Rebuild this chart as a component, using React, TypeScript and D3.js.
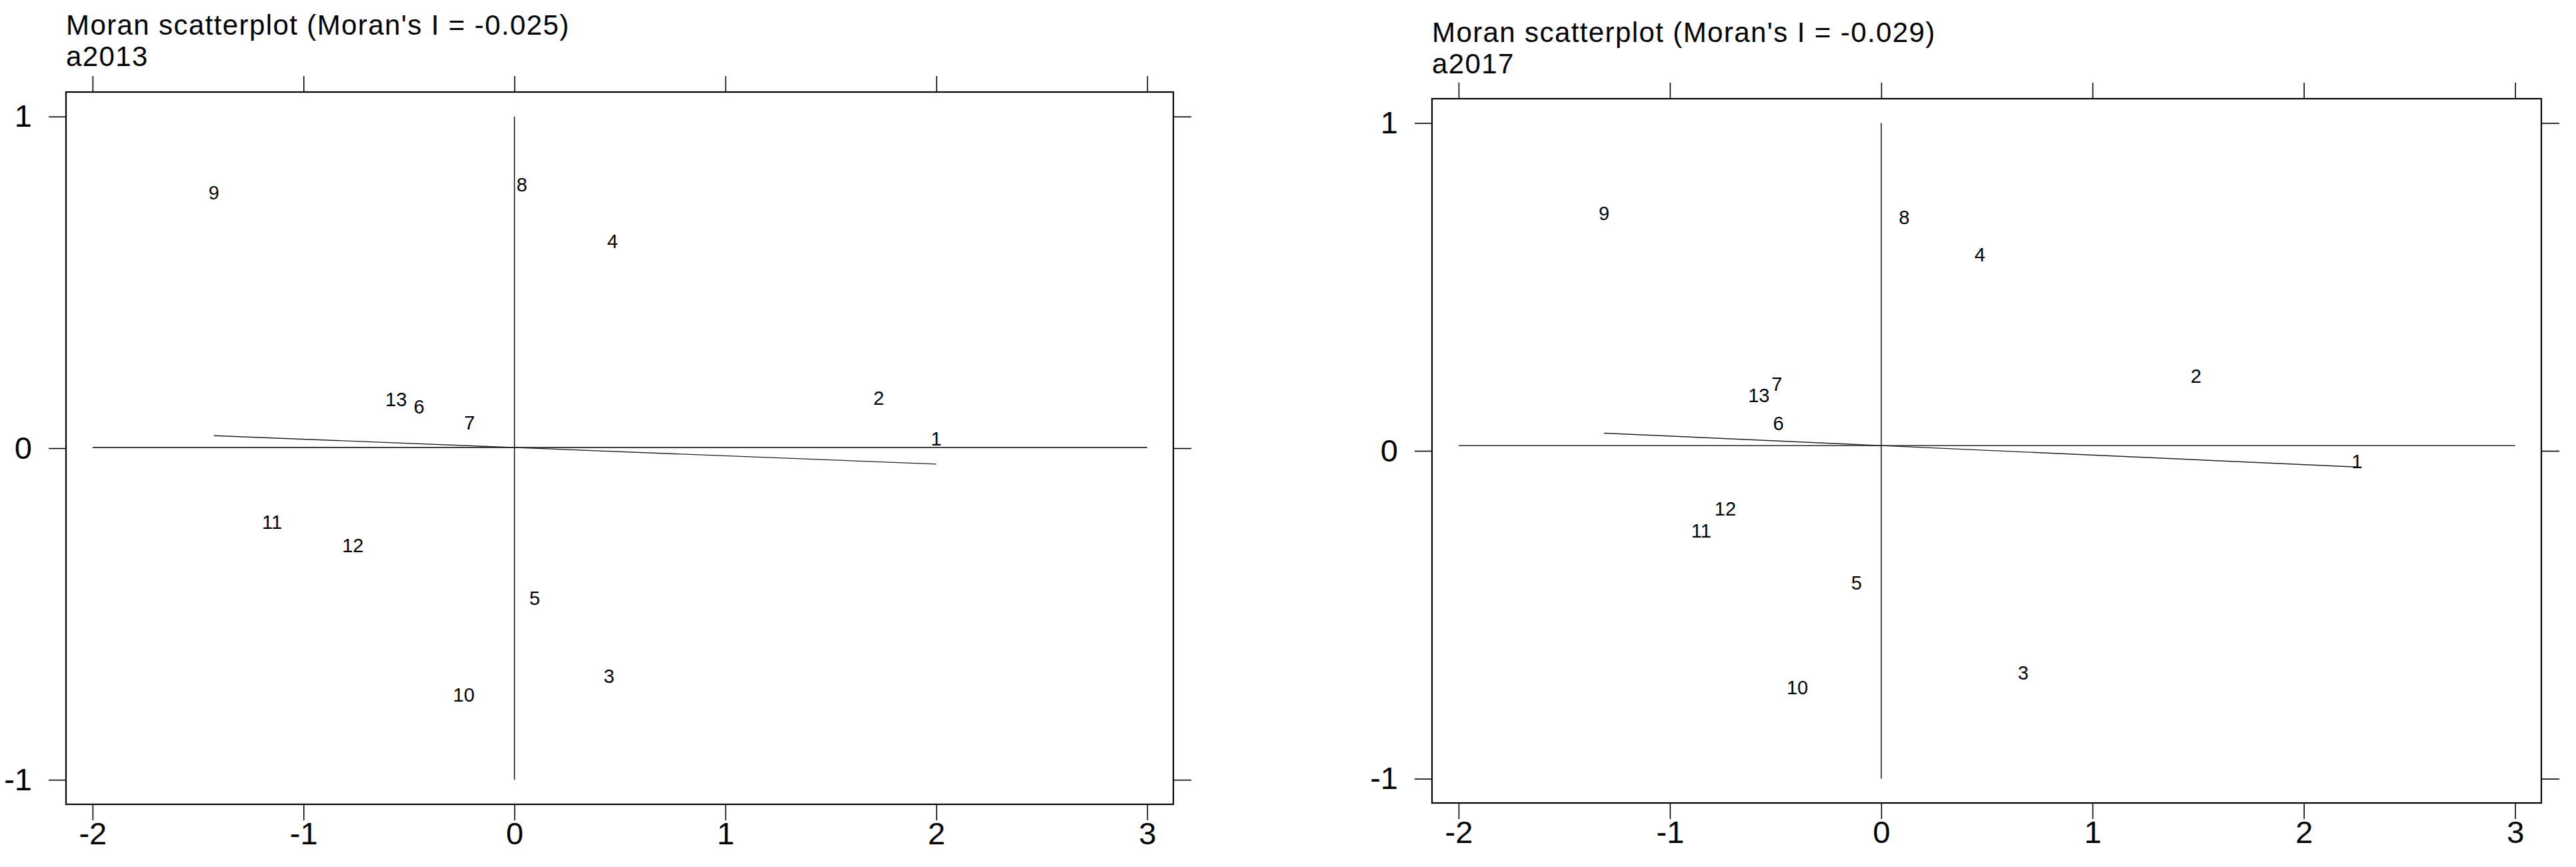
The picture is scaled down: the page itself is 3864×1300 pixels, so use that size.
import React, { useEffect, useRef } from 'react';
import * as d3 from 'd3';

// region ids, 1..13
const regionIds = [1, 2, 3, 4, 5, 6, 7, 8, 9, 10, 11, 12, 13];

// standardized values (z) and their spatial lag (Wz), 2013
const z2013 = [2.0, 1.727, 0.449, 0.465, 0.096, -0.452, -0.213, 0.035, -1.425, -0.24, -1.149, -0.766, -0.561];
const lag2013 = [0.029, 0.151, -0.686, 0.624, -0.451, 0.126, 0.077, 0.795, 0.771, -0.743, -0.222, -0.292, 0.147];

// same for 2017
const z2017 = [2.252, 1.49, 0.672, 0.467, -0.117, -0.487, -0.494, 0.109, -1.312, -0.397, -0.852, -0.738, -0.579];
const lag2017 = [-0.031, 0.228, -0.676, 0.599, -0.401, 0.085, 0.205, 0.713, 0.725, -0.721, -0.244, -0.176, 0.169];

const panelNames = ['a2013', 'a2017'];
const moranI = [-0.025, -0.029];
const lagMeans = [0.002, 0.016];

const xTicks = [-2, -1, 0, 1, 2, 3];
const yTicks = [-1, 0, 1];

const FONT = "'Liberation Sans', Arial, Helvetica, sans-serif";

const App = () => {
  const d3Container = useRef(null);

  useEffect(() => {
    if (!d3Container.current) return;
    const svg = d3.select(d3Container.current);
    svg.selectAll('*').remove();

    const panels = [
      { left: 99, right: 1760, top: 138, bottom: 1206, titleY: 52, z: z2013, lag: lag2013 },
      { left: 2148, right: 3812, top: 148, bottom: 1204, titleY: 63, z: z2017, lag: lag2017 },
    ];

    panels.forEach((p, i) => {
      const x = d3.scaleLinear().domain([-2.126, 3.124]).range([p.left, p.right]);
      const y = d3.scaleLinear().domain([-1.074, 1.074]).range([p.bottom, p.top]);
      const g = svg.append('g');

      // titles, two lines
      [`Moran scatterplot (Moran's I = ${moranI[i].toFixed(3)})`, panelNames[i]].forEach((t, k) => {
        g.append('text')
          .attr('x', p.left)
          .attr('y', p.titleY + k * 47)
          .attr('font-family', FONT)
          .attr('font-size', 42)
          .attr('letter-spacing', 1.4)
          .attr('fill', '#000')
          .text(t);
      });

      const styleAxis = (sel) => {
        sel.select('.domain').remove();
        sel.selectAll('.tick line').attr('stroke', '#000').attr('stroke-width', 1.6);
        sel.selectAll('.tick text')
          .attr('font-family', FONT)
          .attr('font-size', 47)
          .attr('fill', '#000');
      };

      // axes (labels on bottom and left, bare ticks on top and right)
      g.append('g')
        .attr('transform', `translate(0,${p.bottom})`)
        .call(d3.axisBottom(x).tickValues(xTicks).tickSize(24).tickPadding(3).tickFormat((d) => String(d)))
        .call(styleAxis);
      g.append('g')
        .attr('transform', `translate(0,${p.top})`)
        .call(d3.axisTop(x).tickValues(xTicks).tickSize(24).tickFormat(() => ''))
        .call(styleAxis);
      g.append('g')
        .attr('transform', `translate(${p.left},0)`)
        .call(d3.axisLeft(y).tickValues(yTicks).tickSize(26).tickPadding(25).tickFormat((d) => String(d)))
        .call(styleAxis);
      g.append('g')
        .attr('transform', `translate(${p.right},0)`)
        .call(d3.axisRight(y).tickValues(yTicks).tickSize(27).tickFormat(() => ''))
        .call(styleAxis);

      // plot frame
      g.append('rect')
        .attr('x', p.left)
        .attr('y', p.top)
        .attr('width', p.right - p.left)
        .attr('height', p.bottom - p.top)
        .attr('fill', 'none')
        .attr('stroke', '#000')
        .attr('stroke-width', 2.2);

      // mean reference lines
      g.append('line')
        .attr('x1', x(xTicks[0])).attr('x2', x(xTicks[xTicks.length - 1]))
        .attr('y1', y(lagMeans[i])).attr('y2', y(lagMeans[i]))
        .attr('stroke', '#000').attr('stroke-width', 1.4);
      g.append('line')
        .attr('x1', x(0)).attr('x2', x(0))
        .attr('y1', y(yTicks[0])).attr('y2', y(yTicks[yTicks.length - 1]))
        .attr('stroke', '#000').attr('stroke-width', 1.4);

      // fitted line: Wz = mean + I * z
      const ext = d3.extent(p.z);
      const fit = d3.line().x((d) => x(d)).y((d) => y(lagMeans[i] + moranI[i] * d));
      g.append('path')
        .attr('d', fit(ext))
        .attr('fill', 'none')
        .attr('stroke', '#222')
        .attr('stroke-width', 1.4);

      // point labels
      g.selectAll('text.lbl')
        .data(regionIds)
        .enter()
        .append('text')
          .attr('class', 'lbl')
          .attr('x', (d, k) => x(p.z[k]))
          .attr('y', (d, k) => y(p.lag[k]))
          .attr('dy', '0.36em')
          .attr('text-anchor', 'middle')
          .attr('font-family', FONT)
          .attr('font-size', 29)
          .attr('fill', '#000')
          .text((d) => String(d));
    });
  }, []);

  return (
    <svg
      ref={d3Container}
      width={3864}
      height={1300}
      style={{ position: 'absolute', left: 0, top: 0, background: '#fff' }}
    />
  );
};

export default App;
